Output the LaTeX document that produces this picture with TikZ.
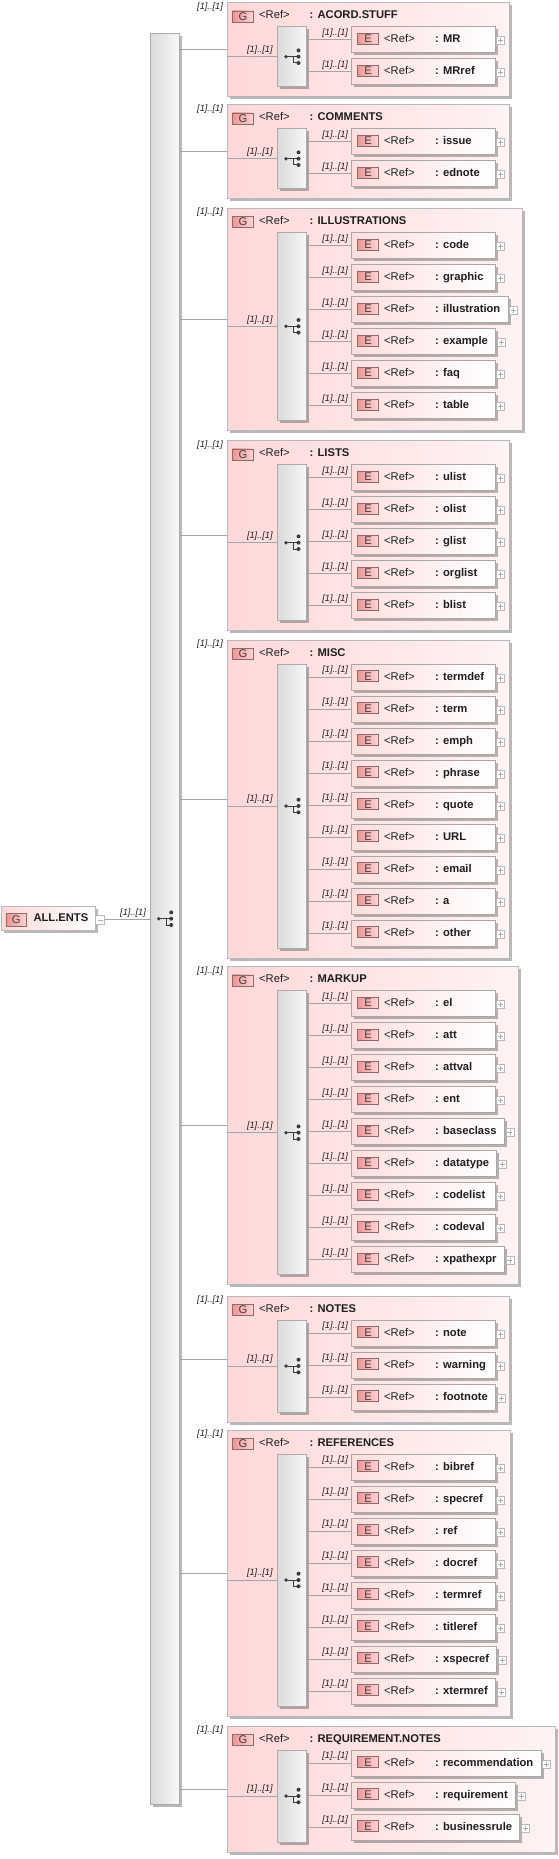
\documentclass[tikz,border=0pt]{standalone}
\usepackage{fontspec}
\setmainfont{Liberation Sans}
\usetikzlibrary{shadows,calc}
\definecolor{linec}{HTML}{A4A4A4}
\definecolor{grpL}{HTML}{FFD8D8}
\definecolor{grpR}{HTML}{FFF3F3}
\definecolor{grpB}{HTML}{B8B8B8}
\definecolor{elL}{HTML}{FFDEDE}
\definecolor{elR}{HTML}{FFFFFF}
\definecolor{elB}{HTML}{A8A8A8}
\definecolor{bdgL}{HTML}{F09494}
\definecolor{bdgR}{HTML}{FFD4D4}
\definecolor{bdgB}{HTML}{8C6A6A}
\definecolor{seqL}{HTML}{DADADA}
\definecolor{seqR}{HTML}{F8F8F8}
\definecolor{seqB}{HTML}{ABABAB}
\definecolor{txt}{HTML}{1E1E1E}
\definecolor{iconc}{HTML}{3C3C3C}
\newdimen\gxtmpd
\newcommand\elfont{\fontsize{11.2}{13}\selectfont\bfseries}
\newcommand\reffont{\fontsize{11.2}{13}\selectfont}
\newcommand\multfont{\fontsize{9.2}{10}\selectfont\itshape}
\pgfdeclarelayer{grpl}
\pgfdeclarelayer{ell}
\pgfsetlayers{grpl,ell,main}
\tikzset{
  bx/.style={inner sep=0pt, outer sep=0pt, anchor=north west},
  shad/.style={drop shadow={shadow xshift=2.5pt, shadow yshift=-2.5pt, opacity=0.28, fill=black}},
  grpbox/.style={bx, draw=grpB, line width=0.9pt, left color=grpL, right color=grpR, shad},
  elbox/.style={bx, draw=elB, line width=0.9pt, left color=elL, right color=elR, shad, minimum height=26pt},
  seqbox/.style={bx, draw=seqB, line width=0.8pt, left color=seqL, right color=seqR, shad, minimum width=29.4pt},
  badge/.style={inner sep=0pt, draw=bdgB, line width=0.7pt, left color=bdgL, right color=bdgR, minimum width=21.5pt, minimum height=11pt, font=\reffont, text=txt!85},
  reftxt/.style={inner sep=0pt, anchor=base west, font=\reffont, text=txt},
  nametxt/.style={inner sep=0pt, anchor=base west, font=\elfont, text=txt},
  mult/.style={inner sep=0pt, font=\multfont, text=txt},
  conn/.style={draw=linec, line width=0.8pt},
  plusbox/.style={draw=gray!55, fill=white, minimum size=8pt, inner sep=0pt, line width=0.6pt,
    path picture={\draw[gray!65, line width=0.6pt]
      ([xshift=-2.5pt]path picture bounding box.center) -- ([xshift=2.5pt]path picture bounding box.center)
      ([yshift=-2.5pt]path picture bounding box.center) -- ([yshift=2.5pt]path picture bounding box.center);}},
  minusbox/.style={draw=gray!55, fill=white, minimum size=8.5pt, inner sep=0pt, line width=0.6pt,
    path picture={\draw[gray!65, line width=0.6pt]
      ([xshift=-2.5pt]path picture bounding box.center) -- ([xshift=2.5pt]path picture bounding box.center);}},
}
\newcommand\seqicon[1]{%
  \draw[iconc, line width=1pt] ($(#1.center)+(-6,0)$) -- ($(#1.center)+(6.5,0)$)
    ($(#1.center)+(1.5,0)$) -- ($(#1.center)+(1.5,6.3)$) -- ($(#1.center)+(6.5,6.3)$);
  \foreach \dy in {-6.3,0,6.3} \fill[iconc] ($(#1.center)+(6.5,\dy)$) circle (2pt);
  \fill[iconc] ($(#1.center)+(-6,0)$) circle (1.9pt);
}
% #1 id, #2 top, #3 n, #4 name, #5 children
\newcommand\grp[5]{%
  \gdef\gmax{495}%
  \pgfmathsetmacro\sH{32*#3-4}%
  \node[seqbox, minimum height=\sH pt] (#1s) at (277.3,#2+24) {};
  \seqicon{#1s}
  \foreach \nm [count=\k from 0] in {#5}{%
    \node[nametxt] (#1en\k) at (435,#2+40+32*\k) {: \nm};
    \pgfextractx{\gxtmpd}{\pgfpointanchor{#1en\k}{east}}%
    \pgfmathsetmacro\eR{max(\the\gxtmpd+7.5,495)}%
    \pgfmathparse{max(\gmax,\eR)}\xdef\gmax{\pgfmathresult}%
    \pgfmathsetmacro\eW{\eR-351.7}%
    \begin{pgfonlayer}{ell}
    \node[elbox, minimum width=\eW pt] (#1e\k) at (351.7,#2+24+32*\k) {};
    \end{pgfonlayer}
    \node[badge] (#1eb\k) at ($(#1e\k.north west)+(16.3,12.3)$) {E};
    \node[reftxt] (#1er\k) at ($(#1e\k.north west)+(32.3,16)$) {<Ref>};
    \node[plusbox] (#1ep\k) at ($(#1e\k.north east)+(5.5,14)$) {};
    \draw[conn] (#1s.east |- #1e\k.west) -- (#1e\k.west);
    \node[mult, anchor=east] (#1em\k) at ($(#1e\k.west)+(-3.5,-6.5)$) {[1]..[1]};
  }
  \pgfmathsetmacro\gW{\gmax+14-227.3}%
  \pgfmathsetmacro\gH{32*#3+30}%
  \begin{pgfonlayer}{grpl}
  \node[grpbox, minimum width=\gW pt, minimum height=\gH pt] (#1) at (227.3,#2) {};
  \end{pgfonlayer}
  \node[mult, anchor=east] (#1m) at (223,#2+4) {[1]..[1]};
  \node[badge] (#1b) at (243,#2+13.7) {G};
  \node[reftxt] (#1r) at (259,#2+16) {<Ref>};
  \node[nametxt] (#1n) at (309.5,#2+16) {: #4};
  \draw[conn] (col.east |- #1.west) -- (#1.west);
  \draw[conn] (#1.west |- #1s.west) -- (#1s.west);
  \node[mult, anchor=east] (#1sm) at ($(#1s.west)+(-4.5,-6.5)$) {[1]..[1]};
}
\begin{document}
\begin{tikzpicture}[x=1pt,y=-1pt]
\useasboundingbox (0,0) rectangle (559,1859);
% main sequence column
\node[seqbox, minimum width=29.3pt, minimum height=1770.7pt] (col) at (150,33.3) {};
\node[inner sep=0pt, minimum size=1pt] (colic) at (164.7,918.7) {};
\seqicon{colic}
% root
\node[bx, draw=grpB, line width=0.9pt, left color=grpL, right color=elR, shad, minimum width=94pt, minimum height=23.3pt] (root) at (1.7,906.7) {};
\node[badge, minimum width=20.7pt, minimum height=13pt] (rootb) at (16.3,919.5) {G};
\node[nametxt] (rootn) at (33.3,921.7) {ALL.ENTS};
\node[minusbox] (rootm) at (100,919.8) {};
\draw[conn] (rootm.east) -- (col.west |- rootm.east);
\node[mult, anchor=east] (rootml) at (146,913.3) {[1]..[1]};
% groups
\grp{ga}{2.7}{2}{ACORD.STUFF}{MR,MRref}
\grp{gb}{104.7}{2}{COMMENTS}{issue,ednote}
\grp{gc}{208.3}{6}{ILLUSTRATIONS}{code,graphic,illustration,example,faq,table}
\grp{gd}{440.7}{5}{LISTS}{ulist,olist,glist,orglist,blist}
\grp{ge}{640}{9}{MISC}{termdef,term,emph,phrase,quote,URL,email,a,other}
\grp{gf}{966.7}{9}{MARKUP}{el,att,attval,ent,baseclass,datatype,codelist,codeval,xpathexpr}
\grp{gg}{1296}{3}{NOTES}{note,warning,footnote}
\grp{gh}{1430}{8}{REFERENCES}{bibref,specref,ref,docref,termref,titleref,xspecref,xtermref}
\grp{gi}{1726}{3}{REQUIREMENT.NOTES}{recommendation,requirement,businessrule}
\end{tikzpicture}
\end{document}
